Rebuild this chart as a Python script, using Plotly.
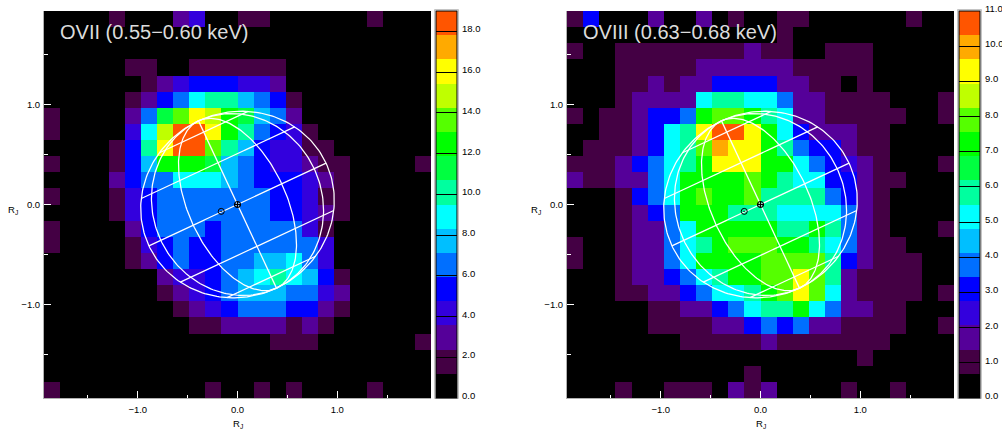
import numpy as np
import plotly.graph_objects as go

# Colour bands, top of the colour bar is the last entry
BAND_COLORS = ["#000000", "#440044", "#550099", "#3300DD", "#0000FF", "#006FFF", "#00BFFF", "#00FFFF",
               "#00FF9F", "#00FF40", "#00FF00", "#55FF00", "#BFFF00", "#FFFF00", "#FFAA00", "#FF5500"]

# Band index per cell, rows from top to bottom, columns left to right
OVII_BANDS = [
[0,0,0,0,1,0,0,0,2,3,0,0,1,1,0,0,0,0,0,0,1,0,0,0],
[0,0,0,0,0,0,0,0,0,0,0,0,0,0,0,0,0,0,0,0,0,0,0,0],
[0,0,0,0,0,0,0,0,0,0,0,0,0,0,0,0,0,0,0,0,0,0,0,0],
[0,0,0,0,0,1,1,0,0,1,1,1,1,1,1,0,0,0,0,0,0,0,0,0],
[0,0,0,0,0,0,1,2,3,4,4,4,3,3,2,0,0,0,0,0,0,0,0,0],
[0,0,0,0,0,1,2,4,5,7,8,8,6,5,4,1,0,0,0,0,0,0,0,0],
[1,0,0,0,0,2,5,9,11,13,12,10,9,6,5,2,0,0,0,0,0,0,0,0],
[1,0,0,0,0,3,7,12,15,15,13,10,8,5,4,3,1,0,0,0,0,0,0,0],
[0,0,0,0,1,4,8,13,15,15,11,8,6,4,3,3,1,1,0,0,0,0,0,0],
[1,0,0,0,1,4,6,10,10,10,9,6,5,4,3,3,2,1,1,0,0,0,0,1],
[0,0,0,0,2,4,5,5,7,7,7,6,5,4,4,4,3,2,1,0,0,0,0,0],
[1,0,0,0,1,3,4,5,5,5,5,5,5,5,4,4,3,1,1,0,0,0,0,0],
[0,0,0,0,1,3,4,5,5,5,5,5,5,5,4,4,3,2,1,0,0,0,0,0],
[1,0,0,0,0,2,4,5,5,5,4,5,5,5,5,5,3,1,0,0,0,0,0,0],
[1,0,0,0,0,1,3,4,5,4,4,5,5,5,5,5,5,3,0,0,0,0,0,0],
[0,0,0,0,0,1,2,4,5,4,4,5,5,6,6,7,5,3,0,0,0,0,0,0],
[0,0,0,0,0,0,0,2,3,3,4,5,6,7,8,7,6,4,1,0,0,0,0,0],
[0,0,0,0,0,0,0,1,2,3,4,5,6,6,6,5,5,3,2,0,0,0,0,0],
[0,0,0,0,0,0,0,0,1,2,3,4,5,5,5,4,4,2,1,0,0,0,0,0],
[0,0,0,0,0,0,0,0,0,1,1,2,2,2,2,1,2,1,0,0,0,0,0,0],
[0,0,0,0,0,0,0,0,0,0,0,0,0,0,1,1,1,0,0,0,0,0,0,1],
[0,0,0,0,0,0,0,0,0,0,0,0,0,0,0,0,0,0,0,0,0,0,0,0],
[0,0,0,0,0,0,0,0,0,0,0,0,0,0,0,0,0,0,0,0,0,0,0,0],
[1,0,0,0,0,0,0,0,0,0,1,0,0,1,0,1,0,0,0,0,1,0,0,0],
]

OVIII_BANDS = [
[1,4,0,0,0,2,0,0,2,0,1,0,0,1,1,0,0,0,0,0,0,1,0,0],
[0,0,0,0,0,0,0,0,0,0,0,0,0,1,0,0,0,0,0,0,0,0,0,0],
[1,0,0,1,1,1,1,1,1,1,1,2,1,1,0,0,1,1,1,0,0,0,0,0],
[0,0,0,1,1,1,1,1,2,2,2,2,2,2,1,1,1,1,1,0,0,0,0,0],
[0,0,0,1,1,2,1,2,2,4,4,4,4,2,2,1,1,0,1,0,0,0,0,0],
[0,0,0,1,2,2,2,2,7,8,8,7,7,5,2,2,1,1,1,1,0,0,0,1],
[1,0,1,1,2,4,4,5,10,11,11,10,8,7,2,2,1,1,1,1,1,0,0,1],
[0,0,1,1,2,4,7,8,13,15,15,13,10,7,4,2,2,2,1,1,0,0,0,0],
[0,1,1,1,2,4,7,8,11,14,13,13,10,8,5,4,4,2,1,1,0,0,0,0],
[1,1,1,2,4,5,7,8,10,13,13,13,10,10,7,5,4,3,2,1,0,0,0,1],
[2,1,1,2,2,5,7,10,10,10,10,11,10,8,7,7,4,4,2,1,1,0,0,0],
[0,0,0,1,4,5,7,10,11,10,10,11,8,8,8,8,5,4,2,1,0,0,0,0],
[0,0,0,1,2,4,5,10,10,10,8,8,8,7,7,7,7,5,2,1,0,0,0,0],
[0,0,0,1,2,2,5,7,10,10,10,10,10,8,8,10,8,5,2,1,0,0,0,1],
[1,0,0,1,2,2,5,7,8,10,11,11,11,10,10,8,7,5,2,1,1,0,0,0],
[1,0,0,1,2,2,5,7,10,10,10,10,11,11,11,11,8,4,2,1,1,1,0,0],
[0,0,0,1,2,2,4,5,7,8,10,10,11,11,13,11,8,2,1,1,1,1,0,0],
[0,0,0,1,1,2,2,4,5,7,7,8,10,11,13,11,7,2,1,1,1,1,0,1],
[0,0,0,0,0,1,1,2,2,4,5,7,8,8,10,7,5,2,2,1,1,0,0,0],
[0,0,0,0,0,1,1,1,1,2,2,4,5,4,5,2,2,1,1,1,1,0,0,1],
[0,0,0,0,0,0,0,1,1,1,1,1,2,1,1,1,1,1,1,1,0,0,0,0],
[0,0,0,0,0,0,0,0,0,0,0,0,0,0,0,0,0,0,1,0,0,0,0,0],
[0,0,0,0,0,0,0,0,0,0,0,1,0,0,0,0,0,0,0,0,0,0,0,0],
[0,0,0,1,0,0,1,1,1,0,2,1,2,0,0,0,0,1,0,0,1,0,0,0],
]

TITLES = ["OVII (0.55\u22120.60 keV)", "OVIII (0.63\u22120.68 keV)"]
VMAX = [19.0, 11.0]
CBAR_TICKS = [[0, 2, 4, 6, 8, 10, 12, 14, 16, 18], [0, 1, 2, 3, 4, 5, 6, 7, 8, 9, 10, 11]]
AXIS_TICKS = [-1.0, 0.0, 1.0]
AXIS_TICKTEXT = ["\u22121.0", "0.0", "1.0"]
AXIS_MINOR = [-1.5, -0.5, 0.5, 1.5]
EXTENT = 1.94
GLOBE_TILT_DEG = 25.0
GLOBE_A, GLOBE_B = 0.98, 0.925
MERIDIANS = [-90, -60, -30, 0, 30, 60, 90]
PARALLELS = [-60, -30, 0, 30, 60]
SUN_POINT = (-0.163, -0.069)
W, H = 1002, 432
PLOT_LEFT = [44, 567]
PLOT_WIDTH = 387
PLOT_TOP, PLOT_BOTTOM = 11, 398
CBAR_LEFT = [436, 959]
CBAR_WIDTH = 21
LABEL_FONT = "Liberation Sans"

n = len(BAND_COLORS)
colorscale = []
for i, c in enumerate(BAND_COLORS):
    colorscale += [[i / n, c], [(i + 1) / n, c]]

def project(u, v):
    t = np.radians(GLOBE_TILT_DEG)
    return u * np.cos(t) - v * np.sin(t), u * np.sin(t) + v * np.cos(t)

s = np.radians(np.linspace(-90, 90, 121))
fig = go.Figure()
grids = [OVII_BANDS, OVIII_BANDS]
cell = 2 * EXTENT / 24
bar_h = PLOT_BOTTOM - PLOT_TOP
line_style = dict(color="white", width=1.25)
label_font = dict(family=LABEL_FONT, size=9.5, color="#000000")
for k in range(2):
    ax = "" if k == 0 else "2"
    z = (np.array(grids[k][::-1], dtype=float) + 0.5) * VMAX[k] / n
    fig.add_trace(go.Heatmap(
        z=z, x0=-EXTENT + cell / 2, dx=cell, y0=-EXTENT + cell / 2, dy=cell,
        xaxis="x" + ax, yaxis="y" + ax, zmin=0, zmax=VMAX[k], colorscale=colorscale, hoverinfo="skip",
        colorbar=dict(
            x=CBAR_LEFT[k] / W, xanchor="left", xpad=0, ypad=0,
            y=(H - PLOT_BOTTOM) / H, yanchor="bottom", len=bar_h / H, lenmode="fraction",
            thickness=CBAR_WIDTH, thicknessmode="pixels",
            outlinecolor="#000000", outlinewidth=1, borderwidth=0,
            tickmode="array", tickvals=CBAR_TICKS[k], showticklabels=False,
            ticks="inside", ticklen=CBAR_WIDTH, tickcolor="#000000", tickwidth=1,
        ),
    ))
    for v_ in CBAR_TICKS[k]:
        fig.add_annotation(xref="paper", yref="paper", x=(CBAR_LEFT[k] + CBAR_WIDTH + 3.5) / W,
                           y=(H - PLOT_BOTTOM + v_ / VMAX[k] * bar_h) / H, yshift=2.5,
                           xanchor="left", yanchor="middle", text=f"{v_:.1f}", showarrow=False,
                           font=label_font, borderpad=0)
    fig.add_shape(type="rect", xref="paper", yref="paper", layer="below",
                  x0=(CBAR_LEFT[k] - 1.5) / W, x1=(CBAR_LEFT[k] + CBAR_WIDTH + 1.5) / W,
                  y0=(H - PLOT_BOTTOM - 0.5) / H, y1=(H - PLOT_TOP + 1.5) / H,
                  line=dict(color="#c4c4c4", width=1))
    for lon in MERIDIANS:
        u, v = GLOBE_A * np.cos(s) * np.sin(np.radians(lon)), GLOBE_B * np.sin(s)
        x, y = project(u, v)
        fig.add_trace(go.Scatter(x=x, y=y, mode="lines", line=line_style, showlegend=False,
                                 hoverinfo="skip", xaxis="x" + ax, yaxis="y" + ax))
    for lat in PARALLELS:
        u, v = GLOBE_A * np.cos(np.radians(lat)) * np.sin(s), GLOBE_B * np.sin(np.radians(lat)) * np.ones_like(s)
        x, y = project(u, v)
        fig.add_trace(go.Scatter(x=x, y=y, mode="lines", line=line_style, showlegend=False,
                                 hoverinfo="skip", xaxis="x" + ax, yaxis="y" + ax))
    fig.add_trace(go.Scatter(x=[0.0], y=[0.0], mode="markers", showlegend=False, hoverinfo="skip",
                             marker=dict(symbol="circle-cross-open", size=6, color="black", line=dict(color="black", width=1.2)),
                             xaxis="x" + ax, yaxis="y" + ax))
    fig.add_trace(go.Scatter(x=[SUN_POINT[0]], y=[SUN_POINT[1]], mode="markers", showlegend=False, hoverinfo="skip",
                             marker=dict(symbol="circle-open-dot", size=6, color="black", line=dict(color="black", width=1)),
                             xaxis="x" + ax, yaxis="y" + ax))
    axis_common = dict(
        range=[-EXTENT, EXTENT], tickmode="array", tickvals=AXIS_TICKS, ticktext=AXIS_TICKTEXT,
        ticks="inside", ticklen=7, tickcolor="white", tickwidth=1,
        minor=dict(tickmode="array", tickvals=AXIS_MINOR, ticks="inside", ticklen=3.5, tickcolor="white", tickwidth=1),
        showgrid=False, zeroline=False, showline=True, linecolor="#b0b0b0", linewidth=1,
        tickfont=label_font, layer="above traces",
    )
    fig.layout["xaxis" + ax] = go.layout.XAxis(
        domain=[PLOT_LEFT[k] / W, (PLOT_LEFT[k] + PLOT_WIDTH) / W], anchor="y" + ax, ticklabelstandoff=3, **axis_common)
    fig.layout["yaxis" + ax] = go.layout.YAxis(
        domain=[(H - PLOT_BOTTOM) / H, (H - PLOT_TOP) / H], anchor="x" + ax, ticklabelstandoff=1, **axis_common)
    fig.add_annotation(xref="x" + ax + " domain", yref="y" + ax + " domain", x=0.035, y=0.945, xanchor="left", yanchor="middle",
                       text=TITLES[k], showarrow=False, font=dict(family="Liberation Sans", size=20, color="#dcdcdc"))
    fig.add_annotation(xref="x" + ax, yref="paper", x=0.0, y=(H - 424) / H, xanchor="center", yanchor="middle",
                       text="R<sub>J</sub>", showarrow=False, font=label_font)
    fig.add_annotation(xref="paper", yref="y" + ax, x=(PLOT_LEFT[k] - 31) / W, y=0.0, yshift=2, xanchor="center", yanchor="top",
                       text="R<sub>J</sub>", showarrow=False, font=label_font)

fig.update_layout(width=W, height=H, autosize=False, paper_bgcolor="white", plot_bgcolor="black",
                  margin=dict(l=0, r=0, t=0, b=0, autoexpand=False), showlegend=False)
fig.write_html("out.html", config={"displayModeBar": False}, post_script="document.body.style.margin='0';")
